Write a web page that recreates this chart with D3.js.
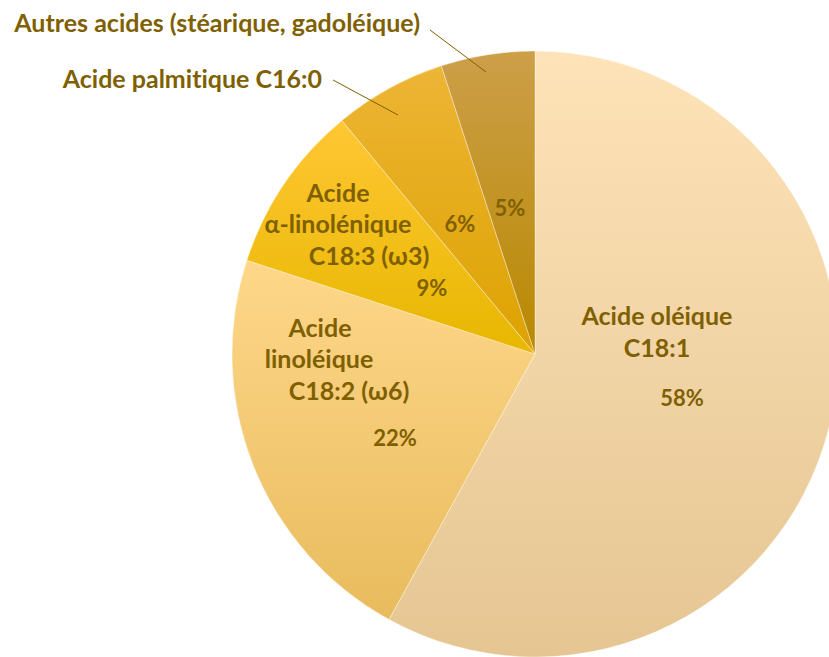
<!DOCTYPE html>
<html><head><meta charset="utf-8">
<script src="https://cdn.jsdelivr.net/npm/d3@7"></script>
<style>
html,body{margin:0;padding:0;background:#fff;}
svg text{font-family:Lato,"Open Sans",sans-serif;font-weight:700;fill:#7f6000;font-variant-ligatures:none;font-feature-settings:"liga" 0;}
</style></head>
<body><svg id="c" width="829" height="657"></svg>
<script>
// Data
const categories = ["Acide oléique C18:1","Acide linoléique C18:2 (ω6)","Acide α-linolénique C18:3 (ω3)","Acide palmitique C16:0","Autres acides (stéarique, gadoléique)"];
const values = [58, 22, 9, 6, 5];
const labelLines = [
  ["Acide oléique","C18:1"],
  ["Acide","linoléique","C18:2 (ω6)"],
  ["Acide","α-linolénique","C18:3 (ω3)"],
  ["Acide palmitique C16:0"],
  ["Autres acides (stéarique, gadoléique)"]
];
const pctLabels = ["58%","22%","9%","6%","5%"];

// Styles / layout
const topColors = ["#fee3b8","#fed78a","#ffc734","#edb535","#cd9f49"];
const botColors = ["#e5c693","#e8bb5d","#e7b700","#dda200","#b88900"];
const cx = 535, cy = 354, R = 303;
const fs = 25, pfs = 22;
// label layout: offsets relative to pie center (px); line positions
const nameLayout = [
  {lines:[[122,-39],[122,-7]]},
  {lines:[[-215,-27],[-216,4],[-186,36]]},
  {lines:[[-197,-162],[-197,-131],[-166,-99]]},
  {lines:[[-213,-276]], anchor:"end", leader:[[-202,-274],[-137,-239]]},
  {lines:[[-115,-332]], anchor:"end", leader:[[-105,-324],[-49,-282]]}
];
const pctLayout = [[147,43],[-140,83],[-103,-67],[-75,-131],[-25,-147]];

const svg = d3.select("#c");
const defs = svg.append("defs");
values.forEach((v,i)=>{
  const g = defs.append("linearGradient").attr("id","g"+i)
    .attr("x1",0).attr("y1",0).attr("x2",0).attr("y2",1);
  g.append("stop").attr("offset","0").attr("stop-color",topColors[i]);
  g.append("stop").attr("offset","1").attr("stop-color",botColors[i]);
});

const pie = d3.pie().sort(null).value(d=>d);
const arcs = pie(values);
const arc = d3.arc().innerRadius(0).outerRadius(R);
const gp = svg.append("g").attr("transform",`translate(${cx},${cy})`);
gp.selectAll("path").data(arcs).join("path")
  .attr("d",arc)
  .attr("fill",(d,i)=>`url(#g${i})`)
  .attr("stroke","rgba(255,255,255,0.45)")
  .attr("stroke-width",0.8);

// Leader lines
nameLayout.forEach((L,i)=>{
  if(L.leader){
    gp.append("line")
      .attr("x1",L.leader[0][0]).attr("y1",L.leader[0][1])
      .attr("x2",L.leader[1][0]).attr("y2",L.leader[1][1])
      .attr("stroke","#7f6000").attr("stroke-width",1);
  }
});

// Name labels
labelLines.forEach((lines,i)=>{
  const L = nameLayout[i];
  lines.forEach((t,j)=>{
    gp.append("text")
      .attr("x",L.lines[j][0]).attr("y",L.lines[j][1])
      .attr("text-anchor",L.anchor||"middle")
      .attr("dominant-baseline","central")
      .attr("font-size",fs)
      .text(t);
  });
});
// Percent labels
pctLabels.forEach((t,i)=>{
  gp.append("text")
    .attr("x",pctLayout[i][0]).attr("y",pctLayout[i][1])
    .attr("text-anchor","middle")
    .attr("dominant-baseline","central")
    .attr("font-size",pfs)
    .text(t);
});
</script></body></html>
